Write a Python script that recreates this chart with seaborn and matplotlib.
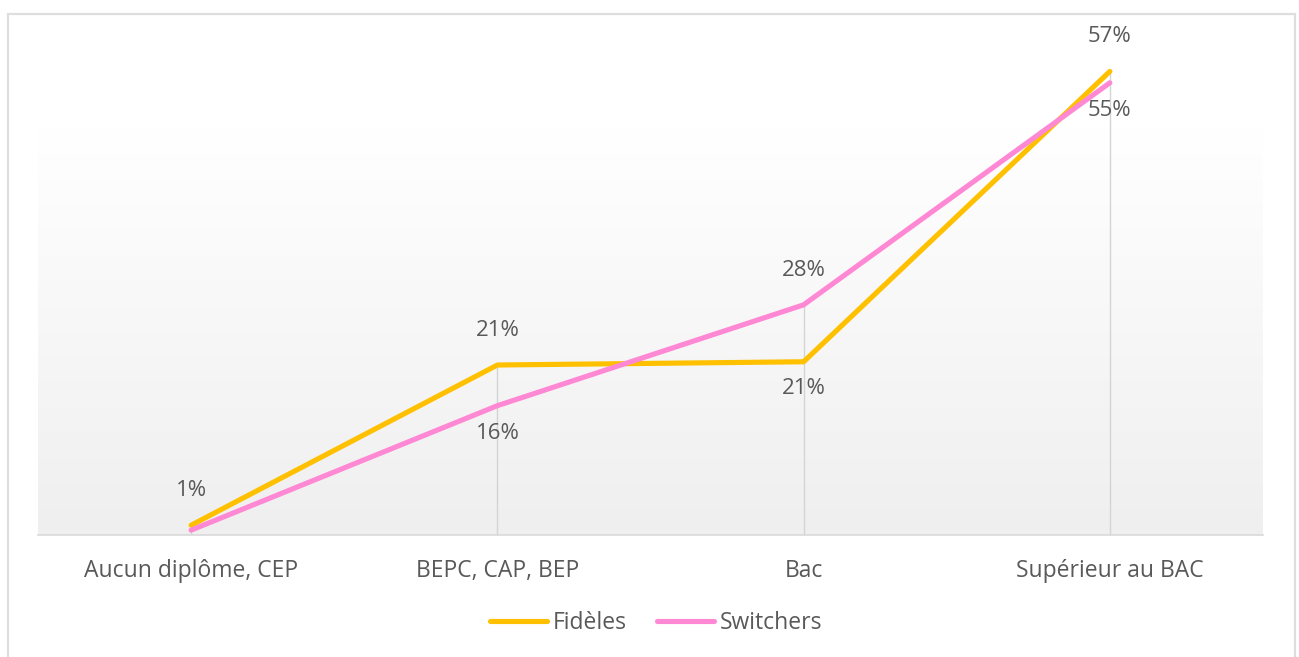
import matplotlib
matplotlib.use("Agg")
import matplotlib.pyplot as plt
import seaborn as sns
import numpy as np
import pandas as pd
from matplotlib.patches import Rectangle

sns.set_theme(style="white")
plt.rcParams['font.family'] = ['Open Sans', 'DejaVu Sans']

# Data
categories = ["Aucun diplôme, CEP", "BEPC, CAP, BEP", "Bac", "Supérieur au BAC"]
fideles = [1.2, 20.9, 21.3, 57.0]
switchers = [0.6, 15.9, 28.3, 55.6]
fideles_labels = ["1%", "21%", "21%", "57%"]
switchers_labels = ["", "16%", "28%", "55%"]
series_names = ["Fidèles", "Switchers"]
colors = {"Fidèles": "#FFC000", "Switchers": "#FF88D4"}

df = pd.DataFrame({
    "niveau": categories * 2,
    "part": fideles + switchers,
    "groupe": [series_names[0]] * 4 + [series_names[1]] * 4,
})

fig = plt.figure(figsize=(12.99, 6.57), dpi=100)
ax = fig.add_axes([38 / 1299, 122 / 657, 1225 / 1299, 488 / 657])

# outer frame
fig.patches.append(Rectangle((8 / 1299, -0.01), 1287 / 1299, (643 / 657) + 0.01,
                             transform=fig.transFigure, fill=False,
                             edgecolor="#dedede", linewidth=1.6, zorder=0))

# gradient plot-area background
grad = np.linspace(0, 1, 256).reshape(-1, 1)
ax.imshow(grad, extent=(-0.5, 3.5, 0, 50), origin="lower", aspect="auto",
          cmap=matplotlib.colors.LinearSegmentedColormap.from_list("g", ["#efefef", "#ffffff"]),
          zorder=0)

sns.lineplot(data=df, x="niveau", y="part", hue="groupe", palette=colors,
             sort=False, linewidth=3.7, ax=ax, zorder=3, legend=True)

# drop lines
for i in range(len(categories)):
    top = max(fideles[i], switchers[i])
    ax.plot([i, i], [0, top], color="#d4d4d4", linewidth=1, zorder=2)

# data labels
for i in range(len(categories)):
    f_above = fideles[i] >= switchers[i]
    ax.annotate(fideles_labels[i], (i, fideles[i]), xytext=(0, 25 if f_above else -19),
                textcoords="offset points", ha="center", va="center",
                fontsize=16, color="#595959", zorder=4)
    if switchers_labels[i]:
        ax.annotate(switchers_labels[i], (i, switchers[i]), xytext=(0, -20 if f_above else 25),
                    textcoords="offset points", ha="center", va="center",
                    fontsize=16, color="#595959", zorder=4)

ax.set_xlim(-0.5, 3.5)
ax.set_ylim(0, 60)
ax.set_facecolor("none")
for s in ["top", "right", "left"]:
    ax.spines[s].set_visible(False)
ax.spines["bottom"].set_color("#d9d9d9")
ax.spines["bottom"].set_linewidth(1.2)
ax.set_yticks([])
ax.set_xlabel("")
ax.set_ylabel("")
ax.tick_params(axis="x", length=0, pad=17, labelsize=16.5, labelcolor="#595959")

handles, labels = ax.get_legend_handles_labels()
ax.get_legend().remove()
fig.legend(handles, labels, loc="center", bbox_to_anchor=(0.505, 1 - 623 / 657),
           ncol=2, frameon=False, fontsize=16.5, labelcolor="#595959",
           handlelength=2.5, handletextpad=0.25, columnspacing=1.3)

fig.savefig("out.png", dpi=100)
